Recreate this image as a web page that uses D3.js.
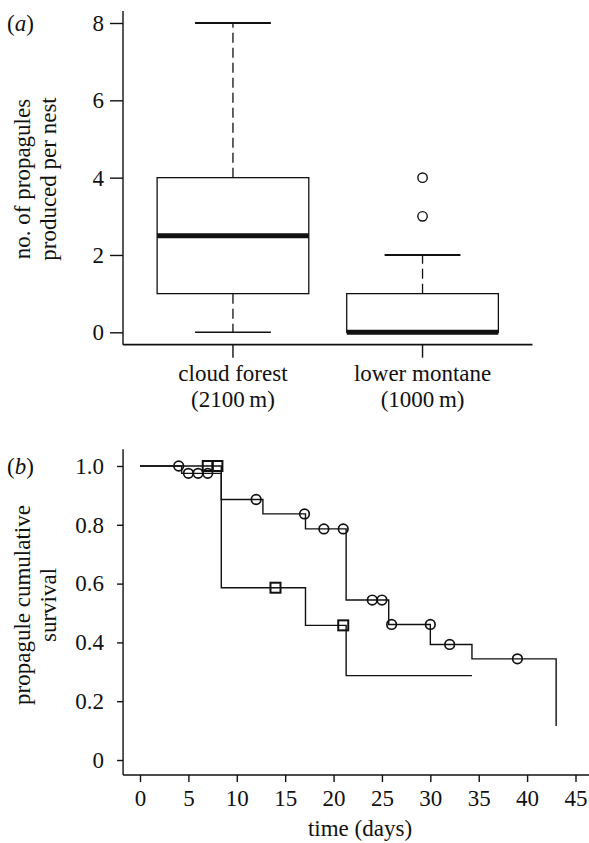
<!DOCTYPE html>
<html>
<head>
<meta charset="utf-8">
<script src="https://cdn.jsdelivr.net/npm/d3@7"></script>
<style>
  html, body { margin: 0; padding: 0; background: #fff; }
  svg text { font-family: "Liberation Serif", "Times New Roman", serif; fill: #111; }
</style>
</head>
<body>
<div id="chart"></div>
<script>
// ---------------- DATA ----------------
// Panel (a): box plots
const categories = ["cloud forest", "lower montane"];
const categorySub = ["(2100\u2009m)", "(1000\u2009m)"];
const boxMin    = [0, 0];
const boxQ1     = [1, 0];
const boxMedian = [2.5, 0];
const boxQ3     = [4, 1];
const boxMax    = [8, 2];
const outliersCategory = [1, 1];
const outliersValue    = [3, 4];
const yTicksA = [0, 2, 4, 6, 8];

// Panel (b): Kaplan–Meier curves
const circleDays = [0, 4.3, 8.4, 12.7, 17.1, 21.3, 25.7, 30, 34.3, 43];
const circleSurv = [1.0, 0.975, 0.886, 0.837, 0.786, 0.544, 0.461, 0.393, 0.344, 0.116];
const circleCensorDays = [4, 5, 6, 7, 12, 17, 19, 21, 24, 25, 26, 30, 32, 39];
const circleCensorSurv = [1.0, 0.975, 0.975, 0.975, 0.886, 0.837, 0.786, 0.786, 0.544, 0.544, 0.461, 0.461, 0.393, 0.344];

const squareDays = [0, 8.4, 17.1, 21.3, 34.3];
const squareSurv = [1.0, 0.586, 0.458, 0.287, 0.287];
const squareCensorDays = [7, 8, 14, 21];
const squareCensorSurv = [1.0, 1.0, 0.586, 0.458];

const xTicksB = [0, 5, 10, 15, 20, 25, 30, 35, 40, 45];
const yTicksB = [0, 0.2, 0.4, 0.6, 0.8, 1.0];
const yTickLabelsB = ["0", "0.2", "0.4", "0.6", "0.8", "1.0"];

// ---------------- DRAW ----------------
const W = 589, H = 843;
const FS = 23;
const svg = d3.select("#chart").append("svg")
  .attr("width", W).attr("height", H)
  .attr("viewBox", `0 0 ${W} ${H}`);

const ink = "#111";

// ===== Panel (a) =====
const xA = d3.scaleLinear().domain([0.42, 2.58]).range([123, 532.5]);
const yA = d3.scaleLinear().domain([0, 8]).range([332.3, 23]);
const gA = svg.append("g");

// axis lines (L-shaped)
gA.append("line").attr("x1", xA(0.42)).attr("x2", xA(0.42))
  .attr("y1", 11).attr("y2", yA(-0.32))
  .attr("stroke", ink).attr("stroke-width", 1.4);
gA.append("line").attr("x1", xA(0.42)).attr("x2", xA(2.58))
  .attr("y1", yA(-0.32)).attr("y2", yA(-0.32))
  .attr("stroke", ink).attr("stroke-width", 1.6);

// y axis ticks
const axA = gA.append("g").attr("transform", `translate(${xA(0.42)},0)`)
  .call(d3.axisLeft(yA).tickValues(yTicksA).tickFormat(d3.format("d"))
    .tickSize(13).tickPadding(6));
axA.select(".domain").remove();
axA.selectAll("line").attr("stroke", ink).attr("stroke-width", 1.4);
axA.selectAll("text").attr("font-size", FS).attr("font-family", null).attr("fill", ink);

// x ticks at categories
categories.forEach((c, i) => {
  const cx = xA(i + 1);
  gA.append("line").attr("x1", cx).attr("x2", cx)
    .attr("y1", yA(-0.32)).attr("y2", yA(-0.32) + 13)
    .attr("stroke", ink).attr("stroke-width", 1.4);
  gA.append("text").attr("x", cx).attr("y", 381).attr("text-anchor", "middle")
    .attr("font-size", FS).text(c);
  gA.append("text").attr("x", cx).attr("y", 407).attr("text-anchor", "middle")
    .attr("font-size", FS).text(categorySub[i]);
});

// boxes
categories.forEach((c, i) => {
  const pos = i + 1;
  const x0 = xA(pos - 0.4), x1 = xA(pos + 0.4);
  const c0 = xA(pos - 0.2), c1 = xA(pos + 0.2);
  const cx = xA(pos);
  if (boxMax[i] > boxQ3[i]) {
    gA.append("line").attr("x1", cx).attr("x2", cx)
      .attr("y1", yA(boxQ3[i])).attr("y2", yA(boxMax[i]))
      .attr("stroke", ink).attr("stroke-width", 1.3).attr("stroke-dasharray", "10,5");
  }
  if (boxMin[i] < boxQ1[i]) {
    gA.append("line").attr("x1", cx).attr("x2", cx)
      .attr("y1", yA(boxQ1[i])).attr("y2", yA(boxMin[i]))
      .attr("stroke", ink).attr("stroke-width", 1.3).attr("stroke-dasharray", "10,5");
  }
  gA.append("line").attr("x1", c0).attr("x2", c1)
    .attr("y1", yA(boxMax[i])).attr("y2", yA(boxMax[i]))
    .attr("stroke", ink).attr("stroke-width", 2.2);
  gA.append("line").attr("x1", c0).attr("x2", c1)
    .attr("y1", yA(boxMin[i])).attr("y2", yA(boxMin[i]))
    .attr("stroke", ink).attr("stroke-width", 1.6);
  gA.append("rect").attr("x", x0).attr("y", yA(boxQ3[i]))
    .attr("width", x1 - x0).attr("height", yA(boxQ1[i]) - yA(boxQ3[i]))
    .attr("fill", "#fff").attr("stroke", ink).attr("stroke-width", 1.3);
  gA.append("line").attr("x1", x0).attr("x2", x1)
    .attr("y1", yA(boxMedian[i])).attr("y2", yA(boxMedian[i]))
    .attr("stroke", ink).attr("stroke-width", 5);
});

outliersValue.forEach((v, k) => {
  gA.append("circle").attr("cx", xA(outliersCategory[k] + 1)).attr("cy", yA(v))
    .attr("r", 4.7).attr("fill", "none").attr("stroke", ink).attr("stroke-width", 1.4);
});

const tA = gA.append("text").attr("transform", `translate(0,179) rotate(-90)`)
  .attr("text-anchor", "middle").attr("font-size", FS);
tA.append("tspan").attr("x", 0).attr("y", 30).text("no. of propagules");
tA.append("tspan").attr("x", 0).attr("y", 56).text("produced per nest");

const la = svg.append("text").attr("x", 7).attr("y", 31).attr("font-size", FS);
la.append("tspan").text("(");
la.append("tspan").attr("font-style", "italic").text("a");
la.append("tspan").text(")");

// ===== Panel (b) =====
const xB = d3.scaleLinear().domain([0, 45]).range([140, 575.5]);
const yB = d3.scaleLinear().domain([0, 1]).range([760, 466]);
const gB = svg.append("g");

gB.append("line").attr("x1", xB(-1.75)).attr("x2", xB(-1.75))
  .attr("y1", yB(1.057)).attr("y2", yB(-0.051))
  .attr("stroke", ink).attr("stroke-width", 1.4);
gB.append("line").attr("x1", xB(-1.75)).attr("x2", W)
  .attr("y1", yB(-0.051)).attr("y2", yB(-0.051))
  .attr("stroke", ink).attr("stroke-width", 1.6);

const ayB = gB.append("g").attr("transform", `translate(${xB(-1.75)},0)`)
  .call(d3.axisLeft(yB).tickValues(yTicksB)
    .tickFormat((d, i) => yTickLabelsB[i]).tickSize(6).tickPadding(13));
ayB.select(".domain").remove();
ayB.selectAll("line").attr("stroke", ink).attr("stroke-width", 1.4);
ayB.selectAll("text").attr("font-size", FS).attr("font-family", null).attr("fill", ink);

const axB = gB.append("g").attr("transform", `translate(0,${yB(-0.051)})`)
  .call(d3.axisBottom(xB).tickValues(xTicksB).tickFormat(d3.format("d"))
    .tickSize(7).tickPadding(8));
axB.select(".domain").remove();
axB.selectAll("line").attr("stroke", ink).attr("stroke-width", 1.4);
axB.selectAll("text").attr("font-size", FS).attr("font-family", null).attr("fill", ink);

const stepLine = d3.line().x(d => xB(d[0])).y(d => yB(d[1])).curve(d3.curveStepAfter);

gB.append("path").attr("d", stepLine(squareDays.map((t, i) => [t, squareSurv[i]])))
  .attr("fill", "none").attr("stroke", ink).attr("stroke-width", 1.4);
gB.append("path").attr("d", stepLine(circleDays.map((t, i) => [t, circleSurv[i]])))
  .attr("fill", "none").attr("stroke", ink).attr("stroke-width", 1.4);

circleCensorDays.forEach((t, i) => {
  gB.append("circle").attr("cx", xB(t)).attr("cy", yB(circleCensorSurv[i]))
    .attr("r", 4.8).attr("fill", "none").attr("stroke", ink).attr("stroke-width", 1.7);
});
const sq = 10;
squareCensorDays.forEach((t, i) => {
  gB.append("rect").attr("x", xB(t) - sq / 2).attr("y", yB(squareCensorSurv[i]) - sq / 2)
    .attr("width", sq).attr("height", sq)
    .attr("fill", "none").attr("stroke", ink).attr("stroke-width", 2);
});

const tB = gB.append("text").attr("transform", `translate(0,605) rotate(-90)`)
  .attr("text-anchor", "middle").attr("font-size", FS);
tB.append("tspan").attr("x", 0).attr("y", 30).text("propagule cumulative");
tB.append("tspan").attr("x", 0).attr("y", 56).text("survival");

gB.append("text").attr("x", 360).attr("y", 836).attr("text-anchor", "middle")
  .attr("font-size", FS).text("time (days)");

const lb = svg.append("text").attr("x", 7).attr("y", 474).attr("font-size", FS);
lb.append("tspan").text("(");
lb.append("tspan").attr("font-style", "italic").text("b");
lb.append("tspan").text(")");
</script>
</body>
</html>
